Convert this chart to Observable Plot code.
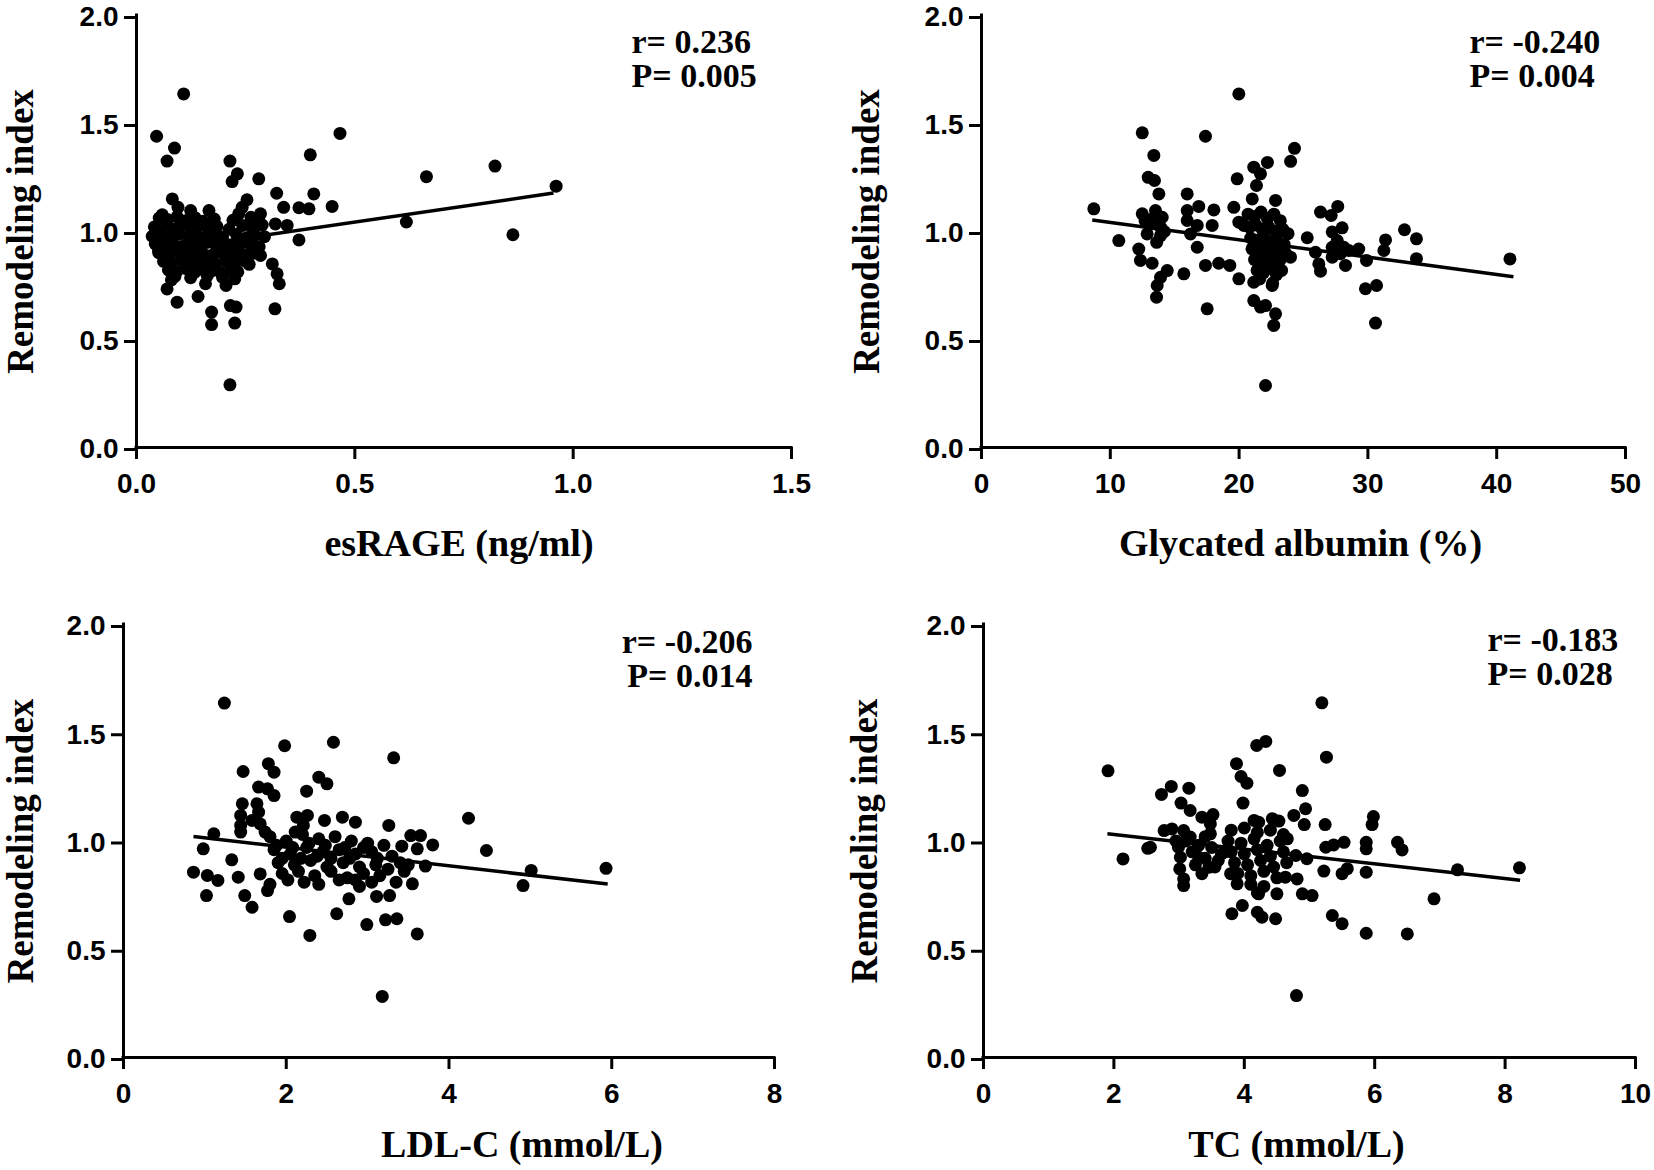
<!DOCTYPE html>
<html>
<head>
<meta charset="utf-8">
<script src="https://cdn.jsdelivr.net/npm/d3@7"></script>
<script src="https://cdn.jsdelivr.net/npm/@observablehq/plot@0.6"></script>
<style>
html, body { margin: 0; padding: 0; background: #fff; }
#root { position: relative; width: 1654px; height: 1170px; background: #fff; overflow: hidden; }
.panel { position: absolute; }
.panel g[aria-label="x-axis tick label"],
.panel g[aria-label="y-axis tick label"] {
  font-family: 'Liberation Sans', Arial, Helvetica, sans-serif;
  font-size: 28px;
  font-weight: bold;
}
</style>
</head>
<body>
<div id="root"></div>
<script>
// ---------- DATA ----------
const yLabel = "Remodeling index";
const yTicks = [0, 0.5, 1.0, 1.5, 2.0];

// Panel A: esRAGE (ng/ml) vs remodeling index  [x, y]
const esragePoints = [
  [0.108,1.637],[0.046,1.441],[0.087,1.386],[0.070,1.326],[0.214,1.326],[0.231,1.267],[0.219,1.231],
  [0.280,1.244],[0.398,1.355],[0.321,1.177],[0.406,1.174],[0.082,1.151],[0.095,1.112],[0.337,1.112],
  [0.372,1.110],[0.395,1.105],[0.448,1.116],[0.466,1.454],[0.253,1.147],[0.059,1.077],[0.124,1.097],
  [0.166,1.097],[0.284,1.082],[0.234,1.082],[0.242,1.112],[0.372,0.961],[0.284,0.889],[0.311,0.850],
  [0.322,0.804],[0.327,0.758],[0.317,0.642],[0.070,0.734],[0.080,0.776],[0.093,0.673],[0.141,0.699],
  [0.158,0.758],[0.172,0.627],[0.172,0.569],[0.215,0.657],[0.228,0.650],[0.225,0.576],[0.205,0.750],
  [0.225,0.781],[0.214,0.290],[0.345,1.028],[0.318,1.035],[0.664,1.254],[0.821,1.303],[0.618,1.044],
  [0.862,0.985],[0.961,1.210],
  [0.052,1.062],[0.071,1.055],[0.093,1.068],[0.112,1.050],[0.134,1.064],[0.152,1.047],[0.178,1.058],
  [0.221,1.052],[0.262,1.066],[0.279,1.045],
  [0.041,1.021],[0.063,1.030],[0.082,1.012],[0.101,1.027],[0.122,1.018],[0.143,1.031],[0.163,1.015],
  [0.184,1.024],[0.212,1.010],[0.243,1.028],[0.265,1.016],[0.288,1.030],
  [0.036,0.978],[0.057,0.985],[0.076,0.972],[0.097,0.988],[0.118,0.975],[0.138,0.983],[0.157,0.969],
  [0.176,0.981],[0.197,0.974],[0.229,0.986],[0.252,0.971],[0.271,0.983],[0.293,0.976],
  [0.043,0.942],[0.062,0.935],[0.083,0.948],[0.104,0.931],[0.121,0.944],[0.142,0.937],[0.161,0.949],
  [0.183,0.930],[0.203,0.941],[0.222,0.933],[0.241,0.946],[0.262,0.938],[0.281,0.929],
  [0.051,0.902],[0.072,0.895],[0.091,0.908],[0.113,0.891],[0.131,0.905],[0.152,0.897],[0.171,0.889],
  [0.192,0.903],[0.213,0.894],[0.233,0.906],[0.254,0.892],[0.268,0.899],
  [0.062,0.862],[0.081,0.855],[0.103,0.868],[0.121,0.851],[0.142,0.864],[0.163,0.857],[0.181,0.849],
  [0.204,0.861],[0.223,0.853],[0.244,0.866],[0.258,0.848],
  [0.073,0.822],[0.092,0.815],[0.114,0.828],[0.133,0.811],[0.151,0.824],[0.172,0.817],[0.193,0.809],
  [0.216,0.821],[0.232,0.813],
  [0.088,0.792],[0.124,0.786],[0.162,0.795],[0.197,0.788]
];

// Panel B: Glycated albumin (%) vs remodeling index
const gaPoints = [
  [19.98,1.637],[12.48,1.457],[17.39,1.441],[13.38,1.352],[12.94,1.251],[13.43,1.236],[13.77,1.174],
  [15.97,1.174],[8.72,1.105],
  [12.48,1.082],[13.51,1.097],[14.03,1.066],[13.12,1.035],[13.90,1.020],[12.86,0.989],[13.90,0.981],
  [13.30,1.060],[14.20,1.000],[12.70,1.050],[13.60,0.950],
  [15.97,1.097],[16.87,1.116],[18.04,1.100],[15.97,1.051],[16.75,1.028],[17.91,1.028],[16.23,0.989],
  [16.75,0.927],[19.59,1.112],[19.85,1.244],[21.14,1.298],[21.66,1.267],[21.35,1.213],[21.02,1.151],
  [22.20,1.320],[24.00,1.325],[24.30,1.385],
  [19.98,1.043],[20.37,1.028],[10.66,0.958],[12.21,0.919],[12.34,0.866],[13.25,0.853],
  [14.42,0.819],[13.90,0.788],[13.64,0.750],[13.59,0.696],[15.71,0.804],[17.39,0.843],[18.42,0.853],
  [19.28,0.843],[17.52,0.642],[19.98,0.781],[21.14,0.765],[21.14,0.680],[21.66,0.650],[22.05,0.287],
  [22.83,1.144],[26.32,1.090],[27.66,1.116],[27.15,1.074],[25.29,0.971],
  [27.23,0.998],[28.00,1.017],[27.62,0.958],[28.13,0.927],[27.23,0.927],[27.87,0.897],[28.26,0.843],
  [28.52,0.912],[27.23,0.881],[25.93,0.904],[26.19,0.850],[26.32,0.816],[29.29,0.919],[29.89,0.866],
  [31.37,0.961],[31.24,0.912],[32.84,1.008],[33.77,0.966],[33.77,0.874],[29.81,0.735],[30.67,0.750],
  [30.59,0.576],[22.57,0.750],[22.05,0.657],[22.83,0.619],[22.69,0.565],[23.99,0.881],[41.03,0.873],
  [20.7,1.08],[21.2,1.07],[21.7,1.09],[22.2,1.06],[22.7,1.08],[23.2,1.05],
  [20.8,1.02],[21.3,1.03],[21.8,1.01],[22.3,1.02],[22.8,1.00],[23.4,1.01],[23.8,0.99],
  [20.9,0.97],[21.4,0.96],[21.9,0.98],[22.4,0.95],[22.9,0.97],[23.5,0.94],
  [21.0,0.92],[21.5,0.91],[22.0,0.93],[22.5,0.90],[23.0,0.92],[23.6,0.90],
  [21.2,0.87],[21.7,0.86],[22.2,0.88],[22.7,0.85],[23.2,0.87],
  [21.4,0.82],[21.9,0.81],[22.4,0.83],[22.9,0.80],[23.3,0.82],[21.6,0.78],[22.6,0.76]
];

// Panel C: LDL-C (mmol/L) vs remodeling index
const ldlPoints = [
  [1.24,1.637],[1.98,1.440],[2.58,1.456],[3.32,1.384],[1.47,1.321],[1.78,1.357],[1.85,1.318],
  [2.40,1.295],[2.50,1.264],[1.66,1.249],[1.77,1.241],[1.85,1.210],[2.25,1.230],
  [1.46,1.172],[1.64,1.172],[1.44,1.118],[1.66,1.133],[1.44,1.072],[1.58,1.095],[1.68,1.079],
  [1.74,1.041],[1.44,1.041],[2.13,1.110],[2.26,1.118],[2.11,1.041],[2.21,1.072],[2.47,1.095],
  [2.69,1.110],[2.85,1.087],[3.26,1.072],
  [1.11,1.033],[0.98,0.964],[1.33,0.913],[0.86,0.856],[1.03,0.841],[1.16,0.818],[1.02,0.748],
  [1.41,0.833],[1.49,0.748],[1.58,0.694],[1.68,0.848],[1.77,0.771],[2.04,0.651],[2.29,0.564],
  [2.62,0.664],[2.77,0.733],[2.99,0.614],[3.11,0.744],[3.27,0.748],[3.22,0.636],[3.36,0.641],
  [3.18,0.282],
  [4.24,1.105],[4.46,0.956],[5.01,0.864],[4.91,0.794],[5.93,0.874],[3.53,1.025],[3.65,1.025],
  [3.42,0.976],[3.61,0.964],[3.80,0.982],[3.71,0.884],[3.55,0.802],[3.61,0.571],
  [1.80,1.02],[2.00,1.00],[2.20,1.03],[2.40,1.01],[2.60,1.02],[2.80,1.00],[3.00,0.99],[3.20,0.98],
  [1.85,0.96],[2.05,0.94],[2.25,0.97],[2.45,0.95],[2.65,0.96],[2.85,0.94],[3.05,0.95],[3.30,0.93],
  [1.90,0.90],[2.10,0.89],[2.30,0.91],[2.50,0.88],[2.70,0.90],[2.90,0.88],[3.10,0.89],[3.40,0.90],
  [1.95,0.85],[2.15,0.86],[2.35,0.84],[2.55,0.86],[2.75,0.83],[2.95,0.85],[3.15,0.84],[3.45,0.86],
  [1.80,0.80],[2.40,0.80],[2.65,0.82],[2.90,0.79],[3.35,0.81],[1.95,0.92],[2.55,0.92],[3.25,0.87],
  [1.88,0.98],[2.08,0.97],[2.28,0.99],[2.48,0.98],[2.72,0.97],[2.95,0.97],[3.12,0.92],[2.18,0.92],
  [2.38,0.93],[2.78,0.92],[2.02,0.82],[2.22,0.81],[2.85,0.82],[3.05,0.81],[3.50,0.89]
];

// Panel D: TC (mmol/L) vs remodeling index
const tcPoints = [
  [5.19,1.638],[4.19,1.441],[4.33,1.460],[5.26,1.387],[3.88,1.357],[4.54,1.326],[3.95,1.298],
  [4.04,1.267],[2.88,1.252],[3.15,1.244],[2.73,1.215],[3.98,1.175],[4.89,1.233],[3.03,1.175],
  [3.17,1.141],[4.94,1.149],[4.76,1.118],[4.92,1.076],[3.35,1.110],[3.52,1.122],[3.48,1.079],
  [3.48,1.033],[4.15,1.095],[4.22,1.087],[4.43,1.103],[4.53,1.092],[5.24,1.076],[5.98,1.113],
  [5.96,1.076],[5.53,0.994],[5.37,0.982],[5.25,0.971],[5.87,0.994],[5.87,0.964],[6.35,0.994],
  [6.42,0.959],[5.22,0.861],[5.50,0.849],[5.58,0.872],[5.87,0.856],[2.56,0.971],[2.77,1.048],
  [2.89,1.056],[3.07,1.048],[3.17,1.018],[2.99,0.971],[3.02,0.925],[3.01,0.871],[3.07,0.825],
  [3.07,0.794],[3.30,0.925],[3.35,0.849],[3.46,0.879],[3.79,0.849],[3.89,0.802],[3.97,0.702],
  [3.81,0.664],[4.20,0.671],[4.27,0.648],[4.48,0.641],[4.22,0.756],[4.50,0.756],[4.81,0.825],
  [4.89,0.756],[5.04,0.748],[4.63,0.833],[5.35,0.656],[5.50,0.618],[5.87,0.574],[6.50,0.571],
  [4.80,0.286],[4.96,0.918],[4.66,1.010],[4.79,0.933],[7.27,0.867],[8.22,0.876],[6.91,0.733],
  [1.91,1.324],[2.14,0.917],[2.52,0.966],
  [3.80,1.05],[4.00,1.06],[4.20,1.04],[4.40,1.05],[4.60,1.03],
  [3.75,1.00],[3.95,0.99],[4.15,1.01],[4.35,0.98],[4.55,1.00],
  [3.80,0.95],[4.00,0.94],[4.20,0.96],[4.40,0.93],[4.60,0.95],
  [3.85,0.90],[4.05,0.89],[4.25,0.91],[4.45,0.88],[4.65,0.90],
  [3.90,0.85],[4.10,0.84],[4.30,0.86],[4.50,0.83],
  [4.10,0.80],[4.30,0.79],[4.20,0.76],
  [3.10,1.00],[3.30,0.98],[3.50,0.97],[3.70,0.95],[3.20,0.95],[3.40,0.92],[3.60,0.91],
  [3.25,0.89],[3.55,0.88],[3.65,0.94],[2.95,1.00],[3.40,1.02]
];

// Fitted regression lines (end points)
const esrageFit = [{x1: 0.036, y1: 0.907, x2: 0.955, y2: 1.178}];
const gaFit     = [{x1: 8.6,   y1: 1.053, x2: 41.3,  y2: 0.791}];
const ldlFit    = [{x1: 0.86,  y1: 1.021, x2: 5.95,  y2: 0.801}];
const tcFit     = [{x1: 1.90,  y1: 1.034, x2: 8.23,  y2: 0.819}];

// Correlation statistics
const esrageStats = ["r= 0.236", "P= 0.005"];
const gaStats     = ["r= -0.240", "P= 0.004"];
const ldlStats    = ["r= -0.206", "P= 0.014"];
const tcStats     = ["r= -0.183", "P= 0.028"];

// X axes
const esrageTicks = [0, 0.5, 1.0, 1.5];
const gaTicks     = [0, 10, 20, 30, 40, 50];
const ldlTicks    = [0, 2, 4, 6, 8];
const tcTicks     = [0, 2, 4, 6, 8, 10];

// ---------- LAYOUT ----------
const SANS = "'Liberation Sans', Arial, Helvetica, sans-serif";
const SERIF = "'Liberation Serif', 'Times New Roman', Times, serif";

const panels = [
  {points: esragePoints, fit: esrageFit, stats: esrageStats, ticks: esrageTicks, fmt: ".1f",
   xLabel: "esRAGE (ng/ml)", left: 0, top: 0, ml: 136, mr: 36, mt: 15, mb: 138,
   yLabDx: -115, xLabDx: -5, xLabDy: 96, statAnchor: "start", statDx: 495, statDy: [27, 61]},
  {points: gaPoints, fit: gaFit, stats: gaStats, ticks: gaTicks, fmt: "d",
   xLabel: "Glycated albumin (%)", left: 827, top: 0, ml: 154, mr: 29, mt: 15, mb: 138,
   yLabDx: -114, xLabDx: -3, xLabDy: 96, statAnchor: "start", statDx: 488, statDy: [27, 61]},
  {points: ldlPoints, fit: ldlFit, stats: ldlStats, ticks: ldlTicks, fmt: "d",
   xLabel: "LDL-C (mmol/L)", left: 0, top: 585, ml: 123, mr: 53, mt: 39, mb: 113,
   yLabDx: -102, xLabDx: 73, xLabDy: 87, statAnchor: "end", statDx: 629, statDy: [18, 52]},
  {points: tcPoints, fit: tcFit, stats: tcStats, ticks: tcTicks, fmt: "d",
   xLabel: "TC (mmol/L)", left: 827, top: 585, ml: 156, mr: 19, mt: 39, mb: 113,
   yLabDx: -118, xLabDx: -13, xLabDy: 87, statAnchor: "start", statDx: 504, statDy: [16, 50]}
];

const root = document.getElementById("root");

for (const p of panels) {
  const xMax = p.ticks[p.ticks.length - 1];
  const chart = Plot.plot({
    width: 827,
    height: 585,
    marginLeft: p.ml,
    marginRight: p.mr,
    marginTop: p.mt,
    marginBottom: p.mb,
    style: {background: "white", color: "black", overflow: "visible"},
    x: {domain: [0, xMax]},
    y: {domain: [0, 2]},
    marks: [
      Plot.axisY({ticks: yTicks, tickFormat: d3.format(".1f"), tickSize: 12, tickPadding: 6, dy: 2,
        strokeWidth: 3, fontSize: 28, fontWeight: "bold", fontFamily: SANS, label: null}),
      Plot.axisX({ticks: p.ticks, tickFormat: d3.format(p.fmt), tickSize: 12, tickPadding: 14,
        strokeWidth: 3, fontSize: 28, fontWeight: "bold", fontFamily: SANS, label: null}),
      Plot.ruleX([0], {y1: 0, y2: 2, strokeWidth: 3, strokeLinecap: "square"}),
      Plot.ruleY([0], {x1: 0, x2: xMax, strokeWidth: 3, strokeLinecap: "square"}),
      Plot.link(p.fit, {x1: "x1", y1: "y1", x2: "x2", y2: "y2", stroke: "black", strokeWidth: 3.5}),
      Plot.dot(p.points, {x: d => d[0], y: d => d[1], r: 6.5, fill: "black", stroke: "none"}),
      Plot.text([yLabel], {frameAnchor: "left", dx: p.yLabDx, rotate: -90, textAnchor: "middle",
        fontSize: 37, fontWeight: "bold", fontFamily: SERIF, lineAnchor: "middle"}),
      Plot.text([p.xLabel], {frameAnchor: "bottom", dx: p.xLabDx, dy: p.xLabDy, textAnchor: "middle",
        fontSize: 38, fontWeight: "bold", fontFamily: SERIF, lineAnchor: "middle"}),
      Plot.text([p.stats[0]], {frameAnchor: "top-left", dx: p.statDx, dy: p.statDy[0],
        textAnchor: p.statAnchor, lineAnchor: "middle", fontSize: 34, fontWeight: "bold", fontFamily: SERIF}),
      Plot.text([p.stats[1]], {frameAnchor: "top-left", dx: p.statDx, dy: p.statDy[1],
        textAnchor: p.statAnchor, lineAnchor: "middle", fontSize: 34, fontWeight: "bold", fontFamily: SERIF})
    ]
  });
  const div = document.createElement("div");
  div.className = "panel";
  div.style.left = p.left + "px";
  div.style.top = p.top + "px";
  div.appendChild(chart);
  root.appendChild(div);
}
</script>
</body>
</html>
